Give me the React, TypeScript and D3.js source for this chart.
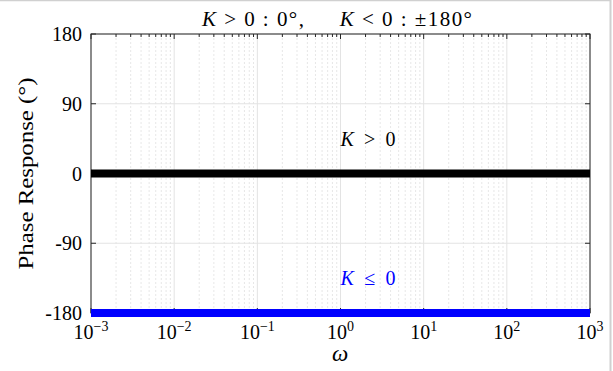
import React from "react";
import * as d3 from "d3";

const omega = [0.001, 0.01, 0.1, 1, 10, 100, 1000];
const phasePos = [0, 0, 0, 0, 0, 0, 0];
const phaseNeg = [-180, -180, -180, -180, -180, -180, -180];
const yTicks = [180, 90, 0, -90, -180];
const xTickExps = [-3, -2, -1, 0, 1, 2, 3];

const W = 613, H = 371;
const M = { left: 91, right: 590, top: 34, bottom: 313 };
const FONT = "'Liberation Serif', 'Times New Roman', serif";

export default function App() {
  const x = d3.scaleLog().domain([1e-3, 1e3]).range([M.left, M.right]);
  const y = d3.scaleLinear().domain([-180, 180]).range([M.bottom, M.top]);
  const line = d3.line<number>().x((_, i) => x(omega[i])).y((d) => y(d));

  const minor: number[] = [];
  for (let e = -3; e < 3; e++) for (let k = 2; k <= 9; k++) minor.push(k * Math.pow(10, e));

  return (
    <svg width={W} height={H} style={{ position: "absolute", left: 0, top: 0, background: "#fff" }} fontFamily={FONT}>
      <rect x={0} y={0} width={W} height={H} fill="#fff" />
      {/* outer frame */}
      <line x1={0} x2={611} y1={0.5} y2={0.5} stroke="#d0d0d0" strokeWidth={1.5} />
      <line x1={610.5} x2={610.5} y1={0} y2={H} stroke="#d0d0d0" strokeWidth={2} />
      {/* minor grid */}
      {minor.map((v, i) => (
        <line key={"mg" + i} x1={x(v)} x2={x(v)} y1={M.top} y2={M.bottom} stroke="#dcdcdc" strokeWidth={0.7} strokeDasharray="2,2" />
      ))}
      {/* major grid */}
      {xTickExps.map((e) => (
        <line key={"xg" + e} x1={x(Math.pow(10, e))} x2={x(Math.pow(10, e))} y1={M.top} y2={M.bottom} stroke="#e3e3e3" strokeWidth={1} />
      ))}
      {yTicks.map((v) => (
        <line key={"yg" + v} x1={M.left} x2={M.right} y1={y(v)} y2={y(v)} stroke="#e3e3e3" strokeWidth={1} />
      ))}
      {/* ticks */}
      {minor.map((v, i) => (
        <g key={"mt" + i} stroke="#262626" strokeWidth={1}>
          <line x1={x(v)} x2={x(v)} y1={M.top} y2={M.top + 3} />
          <line x1={x(v)} x2={x(v)} y1={M.bottom} y2={M.bottom - 3} />
        </g>
      ))}
      {xTickExps.map((e) => (
        <g key={"xt" + e} stroke="#262626" strokeWidth={1}>
          <line x1={x(Math.pow(10, e))} x2={x(Math.pow(10, e))} y1={M.top} y2={M.top + 5} />
          <line x1={x(Math.pow(10, e))} x2={x(Math.pow(10, e))} y1={M.bottom} y2={M.bottom - 5} />
        </g>
      ))}
      {yTicks.map((v) => (
        <g key={"yt" + v} stroke="#262626" strokeWidth={1}>
          <line x1={M.left} x2={M.left + 5} y1={y(v)} y2={y(v)} />
          <line x1={M.right} x2={M.right - 5} y1={y(v)} y2={y(v)} />
        </g>
      ))}
      {/* axes box */}
      <rect x={M.left} y={M.top} width={M.right - M.left} height={M.bottom - M.top} fill="none" stroke="#262626" strokeWidth={1} />
      {/* data */}
      <path d={line(phasePos) || ""} fill="none" stroke="#000" strokeWidth={8} />
      <path d={line(phaseNeg) || ""} fill="none" stroke="#0000ff" strokeWidth={8} />
      {/* y tick labels */}
      {yTicks.map((v) => (
        <text key={"yl" + v} x={M.left - 9} y={y(v)} dy="0.35em" textAnchor="end" fontSize={20} fill="#000">
          {v}
        </text>
      ))}
      {/* x tick labels */}
      {xTickExps.map((e) => (
        <text key={"xl" + e} x={x(Math.pow(10, e))} y={339} textAnchor="middle" fontSize={20} fill="#000">
          10<tspan dy={-8} fontSize={14}>{e < 0 ? "\u2212" + Math.abs(e) : e}</tspan>
        </text>
      ))}
      {/* title */}
      <text x={202} y={26} fontSize={21} fill="#000" textLength={270} lengthAdjust="spacing">
        <tspan fontStyle="italic">K</tspan> &gt; 0 : 0°,{"\u2003\u2002"}<tspan fontStyle="italic">K</tspan> &lt; 0 : ±180°
      </text>
      {/* annotations */}
      <text x={x(1)} y={y(45)} dy="0.35em" fontSize={20} fill="#000" textLength={55} lengthAdjust="spacing">
        <tspan fontStyle="italic">K</tspan> &gt; 0
      </text>
      <text x={x(1)} y={y(-135)} dy="0.35em" fontSize={20} fill="#0000ff" textLength={55} lengthAdjust="spacing">
        <tspan fontStyle="italic">K</tspan> ≤ 0
      </text>
      {/* axis labels */}
      <text x={340} y={361} textAnchor="middle" fontSize={23} fontStyle="italic" fill="#000">ω</text>
      <text transform={`translate(33, ${(M.top + M.bottom) / 2}) rotate(-90)`} x={-96} fontSize={21} fill="#000" textLength={192} lengthAdjust="spacingAndGlyphs">
        Phase Response (°)
      </text>
    </svg>
  );
}
